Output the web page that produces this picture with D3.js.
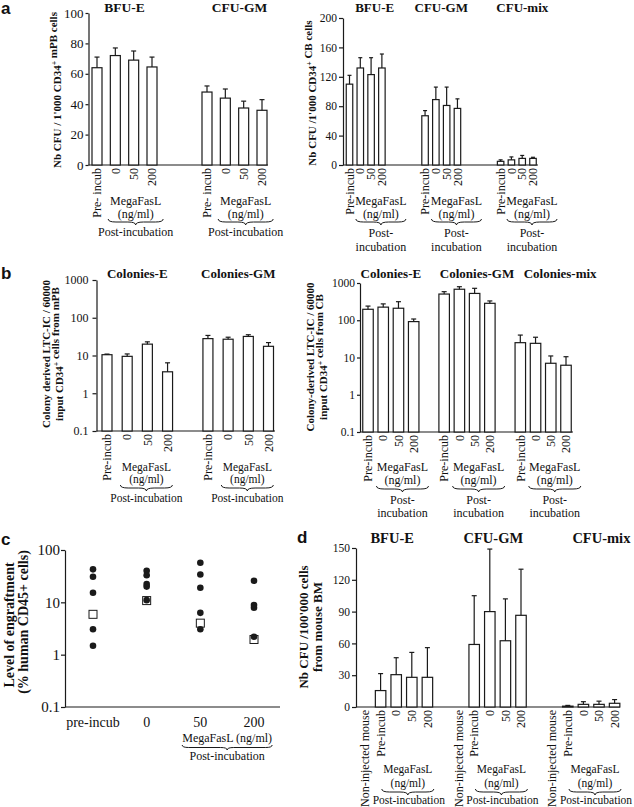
<!DOCTYPE html>
<html><head><meta charset="utf-8">
<script src="https://cdn.jsdelivr.net/npm/d3@7"></script>
<style>
body{margin:0;background:#fff}
svg{display:block}
text{font-family:"Liberation Serif","Times New Roman",serif;fill:#111}
</style>
</head><body>
<svg id="fig" width="634" height="807"></svg>
<script>
// ---------------- DATA ----------------
// panel a (left): mPB
const aGroups = ["BFU-E", "CFU-GM"];
const aCatsMPB = ["Pre- incub", "0", "50", "200"];
const aMeanMPB = [[64, 72, 69, 64.5], [48, 44, 37.5, 36]];
const aSdMPB = [[7, 5, 6, 6.5], [4, 6, 4.5, 7]];
const aTicksMPB = [0, 20, 40, 60, 80, 100];
// panel a (right): CB
const aGroupsCB = ["BFU-E", "CFU-GM", "CFU-mix"];
const aCatsCB = ["Pre-incub", "0", "50", "200"];
const aMeanCB = [[110, 132, 123, 132], [67, 89, 81, 77], [5, 7, 9, 9]];
const aSdCB = [[12, 14, 23, 19], [7, 17, 25, 13], [2, 4, 4, 1.5]];
const aTicksCB = [0, 40, 80, 120, 160, 200];
// panel b (left): LTC-IC mPB
const bGroupsMPB = ["Colonies-E", "Colonies-GM"];
const bCats = ["Pre-incub", "0", "50", "200"];
const bMeanMPB = [[10.5, 9.5, 20, 3.7], [28, 27, 32, 17.5]];
const bSdMPB = [[0.4, 1.5, 3, 2.7], [6, 3.5, 3.5, 4.5]];
// panel b (right): LTC-IC CB
const bGroupsCB = ["Colonies-E", "Colonies-GM", "Colonies-mix"];
const bMeanCB = [[197, 225, 210, 92], [505, 680, 525, 285], [25, 24, 7, 6.2]];
const bSdCB = [[43, 50, 105, 16], [80, 115, 195, 45], [15, 11, 4, 4.3]];
const bTicks = [0.1, 1, 10, 100, 1000];
// panel c: engraftment
const cCats = ["pre-incub", "0", "50", "200"];
const cMice = [[42.7, 30.9, 15.2, 3.05, 1.48], [40, 33, 22.4, 20, 11], [57, 34, 19, 6.3, 3.05], [25.8, 8.9, 7.9, 2.2]];
const cMedian = [5.9, 10.8, 4.0, 1.95];
const cTicks = [0.1, 1, 10, 100];
// panel d: CFU from mouse BM
const dGroups = ["BFU-E", "CFU-GM", "CFU-mix"];
const dCats = ["Non-injected mouse", "Pre-incub", "0", "50", "200"];
const dMean = [[0, 15.5, 30.5, 28, 28], [0, 59, 90, 62.5, 86.5], [0, 0.8, 2.5, 2.5, 3.5]];
const dSd = [[0, 16, 16, 23.5, 28], [0, 46, 59, 39.5, 43.5], [0, 0.7, 2.5, 3, 3.5]];
const dTicks = [0, 30, 60, 90, 120, 150];

// ---------------- HELPERS ----------------
const svg = d3.select("#fig");
const INK = "#1a1a1a";

function yAxis(g, scale, ticks, x, size, tickSize, pad) {
  const ax = g.append("g").attr("transform", `translate(${x},0)`)
    .call(d3.axisLeft(scale).tickValues(ticks).tickSize(tickSize).tickSizeOuter(0).tickPadding(pad).tickFormat(d => String(d)));
  ax.attr("font-family", null).attr("font-size", null);
  ax.selectAll("path,line").attr("stroke", INK).attr("stroke-width", 1.2);
  ax.selectAll("text").attr("font-size", size).attr("fill", INK);
  return ax;
}
function hLine(g, x0, x1, y) {
  g.append("line").attr("x1", x0).attr("x2", x1).attr("y1", y).attr("y2", y)
    .attr("stroke", INK).attr("stroke-width", 1.2);
}
function yLabel(g, x, y, parts, size) {
  const t = g.append("text").attr("transform", `translate(${x},${y}) rotate(-90)`)
    .attr("text-anchor", "middle").attr("dy", "0.35em").attr("font-weight", "bold").attr("font-size", size);
  parts.forEach(p => {
    if (typeof p === "string") t.append("tspan").text(p);
    else { t.append("tspan").attr("dy", "-0.45em").attr("font-size", size * 0.7).text(p.sup);
           t.append("tspan").attr("dy", "0.45em").text(""); }
  });
}
function brace(g, x0, x1, y, h) {
  const xm = (x0 + x1) / 2, q = Math.min(h * 1.3, (x1 - x0) / 4), m = y + h / 2;
  g.append("path").attr("fill", "none").attr("stroke", INK).attr("stroke-width", 1)
    .attr("d", `M${x0},${y} Q${x0},${m} ${x0 + q},${m} L${xm - q},${m} Q${xm},${m} ${xm},${y + h} Q${xm},${m} ${xm + q},${m} L${x1 - q},${m} Q${x1},${m} ${x1},${y}`);
}
function text(g, x, y, s, size, opts = {}) {
  return g.append("text").attr("x", x).attr("y", y).attr("font-size", size)
    .attr("text-anchor", opts.anchor || "middle").attr("font-weight", opts.bold ? "bold" : null).text(s);
}
function letter(x, y, s) {
  svg.append("text").attr("x", x).attr("y", y).attr("font-size", 17).attr("font-weight", "bold")
    .style("font-family", '"Liberation Sans", Arial, sans-serif').text(s);
}

function barPanel(c) {
  const g = svg.append("g");
  const base = c.log ? c.ys.domain()[0] : 0;
  const y0 = c.ys(base);
  yAxis(g, c.ys, c.ticks, c.axisX, c.tickFont, c.tickSize, c.tickPad);
  hLine(g, c.axisX, c.axisEnd, y0);
  c.groups.forEach((gr, gi) => {
    const slots = c.slots[gi];
    const gcx = (c.xs(slots[0]) + c.xs(slots[slots.length - 1])) / 2;
    text(g, gcx + c.titleDx[gi], c.titleY, gr, c.titleFont, { bold: true });
    slots.forEach((s, i) => {
      const v = c.means[gi][i], sd = c.sds[gi][i], cx = c.xs(s);
      if (v > 0) {
        g.append("rect").attr("x", cx - c.barW / 2).attr("y", c.ys(v))
          .attr("width", c.barW).attr("height", y0 - c.ys(v))
          .attr("fill", "#fff").attr("stroke", INK).attr("stroke-width", 1.2);
        if (sd > 0) {
          g.append("line").attr("x1", cx).attr("x2", cx).attr("y1", c.ys(v)).attr("y2", c.ys(v + sd))
            .attr("stroke", INK).attr("stroke-width", 1.2);
          g.append("line").attr("x1", cx - c.capW / 2).attr("x2", cx + c.capW / 2)
            .attr("y1", c.ys(v + sd)).attr("y2", c.ys(v + sd)).attr("stroke", INK).attr("stroke-width", 1.2);
        }
      }
      g.append("text").attr("transform", `translate(${cx},${y0 + 3}) rotate(-90)`)
        .attr("text-anchor", "end").attr("dy", "0.35em").attr("font-size", c.catFont).text(c.cats[i]);
    });
    // MegaFasL annotation
    const ac = c.annCenter(slots);
    text(g, ac, c.megaY, "MegaFasL", c.megaFont);
    text(g, ac, c.ngY, "(ng/ml)", c.megaFont);
    brace(g, ac - c.braceW / 2, ac + c.braceW / 2, c.braceY, 6);
    c.post.forEach((p, k) => text(g, ac + (c.postDx || 0), c.postY[k], p, c.megaFont));
  });
  return g;
}

// ---------------- PANEL a ----------------
letter(1, 14, "a");
const xsAM = d3.scaleLinear().domain([0, 9]).range([97, 262]);
barPanel({
  groups: aGroups, cats: aCatsMPB, means: aMeanMPB, sds: aSdMPB, ticks: aTicksMPB,
  xs: xsAM, slots: [[0, 1, 2, 3], [6, 7, 8, 9]],
  ys: d3.scaleLinear().domain([0, 100]).range([165, 13]),
  axisX: 88.5, axisEnd: 268, barW: 10, capW: 5, tickFont: 13, tickSize: 3, tickPad: 2,
  titleDx: [0, 5], titleY: 12, titleFont: 13.5, catFont: 12,
  annCenter: s => (xsAM(s[1]) + xsAM(s[3])) / 2 + 2,
  megaY: 205, ngY: 218, braceY: 219, braceW: 55, megaFont: 12, post: ["Post-incubation"], postY: [236]
});
yLabel(svg, 57, 90, ["Nb CFU / 1'000 CD34", { sup: "+" }, " mPB cells"], 11);

const xsACB = d3.scaleLinear().domain([0, 17]).range([349.5, 533]);
barPanel({
  groups: aGroupsCB, cats: aCatsCB, means: aMeanCB, sds: aSdCB, ticks: aTicksCB,
  xs: xsACB, slots: [[0, 1, 2, 3], [7, 8, 9, 10], [14, 15, 16, 17]],
  ys: d3.scaleLinear().domain([0, 200]).range([165, 18]),
  axisX: 343, axisEnd: 538, barW: 6.5, capW: 4, tickFont: 11.5, tickSize: 4, tickPad: 2,
  titleDx: [9, 0, 5.5], titleY: 12, titleFont: 13, catFont: 12,
  annCenter: s => xsACB(s[3]) - 1,
  megaY: 205, ngY: 218, braceY: 219, braceW: 50, megaFont: 12, post: ["Post-", "incubation"], postY: [237, 251]
});
yLabel(svg, 312, 93, ["Nb CFU /1'000 CD34", { sup: "+" }, " CB cells"], 11);

// ---------------- PANEL b ----------------
letter(1, 279, "b");
const xsBM = d3.scaleLinear().domain([0, 8]).range([107, 268.5]);
barPanel({
  groups: bGroupsMPB, cats: bCats, means: bMeanMPB, sds: bSdMPB, ticks: bTicks, log: true,
  xs: xsBM, slots: [[0, 1, 2, 3], [5, 6, 7, 8]],
  ys: d3.scaleLog().domain([0.1, 1000]).range([431, 280]),
  axisX: 96.5, axisEnd: 275, barW: 10, capW: 5, tickFont: 12, tickSize: 4, tickPad: 4,
  titleDx: [0, 0], titleY: 278, titleFont: 13, catFont: 12,
  annCenter: s => (xsBM(s[1]) + xsBM(s[3])) / 2 - 1,
  megaY: 471, ngY: 483, braceY: 485, braceW: 52, megaFont: 11.5, post: ["Post-incubation"], postY: [502]
});
yLabel(svg, 46, 354, ["Colony derived LTC-IC / 60000"], 11);
yLabel(svg, 59, 354, ["input CD34", { sup: "+" }, " cells from mPB"], 11);

const xsBC = d3.scaleLinear().domain([0, 13]).range([368, 566]);
barPanel({
  groups: bGroupsCB, cats: bCats, means: bMeanCB, sds: bSdCB, ticks: bTicks, log: true,
  xs: xsBC, slots: [[0, 1, 2, 3], [5, 6, 7, 8], [10, 11, 12, 13]],
  ys: d3.scaleLog().domain([0.1, 1000]).range([432, 283]),
  axisX: 360, axisEnd: 573, barW: 10.5, capW: 5, tickFont: 11.5, tickSize: 3, tickPad: 2,
  titleDx: [0, 10, 17], titleY: 278, titleFont: 13, catFont: 12,
  annCenter: s => xsBC(s[2]) + 4,
  megaY: 471, ngY: 484, braceY: 486, braceW: 52, megaFont: 12, post: ["Post-", "incubation"], postY: [504, 517]
});
yLabel(svg, 310, 357, ["Colony-derived LTC-IC / 60000"], 11);
yLabel(svg, 323, 357, ["input CD34", { sup: "+" }, " cells from CB"], 11);

// ---------------- PANEL c ----------------
letter(1, 545, "c");
(function () {
  const g = svg.append("g");
  const xs = d3.scaleLinear().domain([0, 3]).range([93, 254]);
  const ys = d3.scaleLog().domain([0.1, 100]).range([707, 550]);
  yAxis(g, ys, cTicks, 65, 15, 4, 1);
  hLine(g, 65, 280, ys(0.1));
  cCats.forEach((c, i) => text(g, xs(i), 727, c, 14));
  const mc = (xs(2) + xs(3)) / 2;
  text(g, mc, 742, "MegaFasL (ng/ml)", 12);
  brace(g, mc - 45, mc + 45, 745, 5);
  text(g, mc, 760, "Post-incubation", 12);
  cMedian.forEach((v, i) => {
    g.append("rect").attr("x", xs(i) - 4).attr("y", ys(v) - 4).attr("width", 8).attr("height", 8)
      .attr("fill", "#fff").attr("stroke", INK).attr("stroke-width", 1);
  });
  cMice.forEach((arr, i) => arr.forEach(v => {
    g.append("circle").attr("cx", xs(i)).attr("cy", ys(v)).attr("r", 3.3).attr("fill", INK);
  }));
  yLabel(svg, 9, 625, ["Level of engraftment"], 14);
  yLabel(svg, 23, 622, ["(% human CD45+ cells)"], 14);
})();

// ---------------- PANEL d ----------------
letter(297, 543, "d");
const xsD = d3.scaleLinear().domain([0, 16]).range([365, 614.6]);
barPanel({
  groups: dGroups, cats: dCats, means: dMean, sds: dSd, ticks: dTicks,
  xs: xsD, slots: [[0, 1, 2, 3, 4], [6, 7, 8, 9, 10], [12, 13, 14, 15, 16]],
  ys: d3.scaleLinear().domain([0, 150]).range([707, 548]),
  axisX: 356, axisEnd: 620, barW: 10.5, capW: 5, tickFont: 11.5, tickSize: 4, tickPad: 2,
  titleDx: [-4, 3.5, 18], titleY: 543, titleFont: 14.5, catFont: 12,
  annCenter: s => xsD(s[3]) - 4, postDx: 1,
  megaY: 773, ngY: 787, braceY: 789, braceW: 52, megaFont: 11.5, post: ["Post-incubation"], postY: [804]
});
yLabel(svg, 303, 627, ["Nb CFU /100'000 cells"], 13);
yLabel(svg, 317, 627, ["from mouse BM"], 13);
</script>
</body></html>
